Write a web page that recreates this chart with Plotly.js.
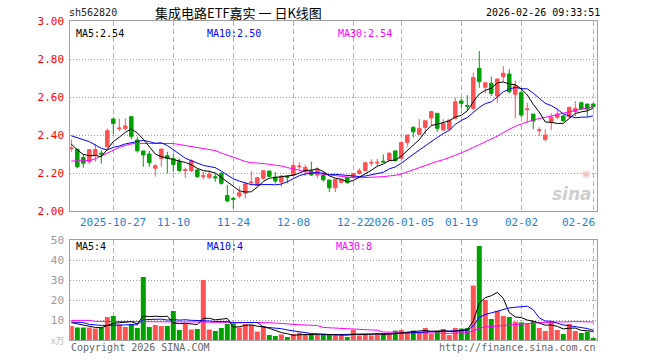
<!DOCTYPE html>
<html><head><meta charset="utf-8">
<script src="https://cdn.plot.ly/plotly-3.0.1.min.js"></script>
<style>html,body{margin:0;padding:0;background:#fff}#chart{width:660px;height:360px}</style>
</head><body><div id="chart"></div>
<script>
const dates = ['2025-10-16','2025-10-17','2025-10-20','2025-10-21','2025-10-22','2025-10-23','2025-10-24','2025-10-27','2025-10-28','2025-10-29',
'2025-10-30','2025-10-31','2025-11-03','2025-11-04','2025-11-05','2025-11-06','2025-11-07','2025-11-10','2025-11-11','2025-11-12',
'2025-11-13','2025-11-14','2025-11-17','2025-11-18','2025-11-19','2025-11-20','2025-11-21','2025-11-24','2025-11-25','2025-11-26',
'2025-11-27','2025-11-28','2025-12-01','2025-12-02','2025-12-03','2025-12-04','2025-12-05','2025-12-08','2025-12-09','2025-12-10',
'2025-12-11','2025-12-12','2025-12-15','2025-12-16','2025-12-17','2025-12-18','2025-12-19','2025-12-22','2025-12-23','2025-12-24',
'2025-12-25','2025-12-26','2025-12-29','2025-12-30','2025-12-31','2026-01-05','2026-01-06','2026-01-07','2026-01-08','2026-01-09',
'2026-01-12','2026-01-13','2026-01-14','2026-01-15','2026-01-16','2026-01-19','2026-01-20','2026-01-21','2026-01-22','2026-01-23',
'2026-01-26','2026-01-27','2026-01-28','2026-01-29','2026-01-30','2026-02-02','2026-02-03','2026-02-04','2026-02-05','2026-02-06',
'2026-02-09','2026-02-10','2026-02-11','2026-02-12','2026-02-13','2026-02-24','2026-02-25','2026-02-26'];

const open = [2.328,2.325,2.281,2.259,2.295,2.305,2.338,2.484,2.432,2.435,
2.496,2.374,2.316,2.300,2.225,2.277,2.291,2.275,2.260,2.213,
2.212,2.216,2.182,2.177,2.180,2.198,2.081,2.066,2.079,2.093,
2.148,2.135,2.172,2.210,2.179,2.152,2.183,2.188,2.233,2.207,
2.211,2.189,2.188,2.163,2.122,2.151,2.176,2.178,2.198,2.212,
2.252,2.252,2.262,2.268,2.316,2.277,2.360,2.440,2.404,2.440,
2.490,2.514,2.426,2.430,2.488,2.579,2.555,2.540,2.751,2.651,
2.672,2.605,2.707,2.721,2.614,2.623,2.533,2.510,2.424,2.377,
2.465,2.493,2.500,2.496,2.523,2.570,2.563,2.563];
const high = [2.377,2.328,2.300,2.325,2.353,2.320,2.435,2.491,2.485,2.488,
2.500,2.391,2.316,2.316,2.247,2.328,2.312,2.300,2.277,2.228,
2.272,2.220,2.207,2.214,2.198,2.205,2.137,2.075,2.128,2.147,
2.210,2.178,2.216,2.214,2.204,2.190,2.186,2.259,2.256,2.244,
2.260,2.230,2.205,2.163,2.168,2.168,2.178,2.200,2.225,2.258,
2.272,2.275,2.298,2.310,2.318,2.362,2.400,2.447,2.484,2.475,
2.528,2.514,2.483,2.480,2.596,2.593,2.610,2.728,2.842,2.675,
2.707,2.695,2.763,2.746,2.686,2.646,2.570,2.510,2.440,2.430,
2.514,2.540,2.505,2.548,2.579,2.575,2.563,2.566];
const low = [2.312,2.225,2.228,2.247,2.260,2.250,2.335,2.405,2.420,2.423,
2.378,2.307,2.233,2.233,2.181,2.233,2.198,2.205,2.205,2.175,
2.205,2.175,2.167,2.167,2.154,2.139,2.044,2.012,2.067,2.067,
2.135,2.130,2.165,2.180,2.144,2.128,2.146,2.185,2.218,2.185,
2.184,2.172,2.154,2.100,2.100,2.145,2.142,2.170,2.190,2.210,
2.237,2.235,2.255,2.262,2.260,2.275,2.338,2.386,2.400,2.404,
2.447,2.417,2.424,2.428,2.486,2.540,2.528,2.532,2.649,2.619,
2.605,2.570,2.681,2.619,2.488,2.493,2.465,2.430,2.395,2.365,
2.426,2.483,2.470,2.490,2.496,2.535,2.496,2.545];
const close = [2.332,2.233,2.251,2.323,2.323,2.300,2.423,2.461,2.437,2.447,
2.393,2.317,2.295,2.254,2.238,2.326,2.277,2.245,2.213,2.218,
2.265,2.181,2.186,2.193,2.175,2.146,2.053,2.062,2.096,2.142,
2.152,2.175,2.212,2.182,2.158,2.184,2.178,2.240,2.236,2.230,
2.190,2.219,2.164,2.122,2.167,2.164,2.150,2.198,2.212,2.254,
2.256,2.256,2.258,2.304,2.265,2.360,2.400,2.417,2.435,2.475,
2.523,2.435,2.461,2.479,2.575,2.567,2.552,2.702,2.681,2.675,
2.619,2.695,2.725,2.628,2.660,2.505,2.537,2.474,2.428,2.400,
2.493,2.510,2.475,2.546,2.540,2.537,2.537,2.549];
const volume = [7,6.2,6.2,6.2,5.8,6.2,11.5,12,7.8,6.5,
8,6,31.5,6.5,7.5,7,7,14.5,5,8.3,
5.2,5.5,30,5.2,4.5,6,8,8.3,6.3,8,
7.5,4.2,7,2.5,2,2.8,1.5,3,3.7,2.8,
2.8,2.5,3,2.5,2.5,2.5,1.5,5,2.3,3,
2.3,3,3.3,3,4.7,5,4,4.7,4.2,6,
3,4.5,5.5,2.5,6,5.7,6,27.2,47,20,
10.5,14.5,12,11.5,9.2,8.8,8.3,9.5,6,4.5,
9.2,5,3,8,4.5,3.5,4.2,1];

// moving-average values before enough history is shown
const ma5Head = [2.353,2.321,2.298,2.291];
const ma10Head = [2.396,2.386,2.377,2.365,2.347,2.330,2.321,2.335,2.342];
const ma30Head = [2.263,2.263,2.263,2.265,2.275,2.290,2.305,2.320,2.335,2.345,
2.353,2.356,2.356,2.356,2.356,2.356,2.355,2.355,2.350,2.345,
2.338,2.335,2.330,2.325,2.318,2.305,2.295,2.285,2.272];
const vma5Head = [8.7,8.0,7.3,6.7];
const vma10Head = [9.0,9.0,8.7,7.8,7.5,7.3,7.3,7.5,7.7];
const vma30Head = [9.8,9.8,9.8,9.8,9.3,9.3,9.3,9.3,9.3,9.3,
9.3,9.0,9.0,9.0,9.0,9.0,9.0,9.0,9.0,9.0,
9.0,9.0,9.0,8.9,8.9,8.9,8.9,8.9,8.9];

const tickDates = ['2025-10-27','2025-11-10','2025-11-24','2025-12-08','2025-12-22','2026-01-05','2026-01-19','2026-02-02','2026-02-26'];
const tickLabels = ['2025-10-27','11-10','11-24','12-08','12-22','2026-01-05','01-19','02-02','02-26'];
const priceTicks = [2.0,2.2,2.4,2.6,2.8,3.0];
const volTicks = [10,20,30,40,50];

const titleText = '集成电路ETF嘉实 一 日K线图';
const codeText = 'sh562820';
const stampText = '2026-02-26 09:33:51';
const priceLegend = ['MA5:2.54','MA10:2.50','MA30:2.54'];
const volLegend = ['MA5:4','MA10:4','MA30:8'];

function movingAvg(vals, n, head){
  return vals.map((v,i)=>{
    if(i < n-1) return head[i];
    let s=0; for(let k=i-n+1;k<=i;k++) s+=vals[k];
    return s/n;
  });
}

const UP='#ff5252', DOWN='#00a000';
const MONO='DejaVu Sans Mono';
const maColors=['#000000','#0000ff','#ff00ff'];

const ma5=movingAvg(close,5,ma5Head), ma10=movingAvg(close,10,ma10Head), ma30=movingAvg(close,30,ma30Head);
const vma5=movingAvg(volume,5,vma5Head), vma10=movingAvg(volume,10,vma10Head), vma30=movingAvg(volume,30,vma30Head);
const barColors = close.map((c,i)=> c>=open[i]?UP:DOWN);

const traces = [
  {type:'scatter',mode:'lines',x:dates,y:ma30,line:{color:maColors[2],width:1},xaxis:'x',yaxis:'y',hoverinfo:'skip'},
  {type:'candlestick',x:dates,open:open,high:high,low:low,close:close,xaxis:'x',yaxis:'y',
   increasing:{line:{color:UP,width:1},fillcolor:UP},decreasing:{line:{color:DOWN,width:1},fillcolor:DOWN},whiskerwidth:0},
  {type:'scatter',mode:'lines',x:dates,y:ma10,line:{color:maColors[1],width:1},xaxis:'x',yaxis:'y',hoverinfo:'skip'},
  {type:'scatter',mode:'lines',x:dates,y:ma5,line:{color:maColors[0],width:1},xaxis:'x',yaxis:'y',hoverinfo:'skip'},
  {type:'bar',x:dates,y:volume,marker:{color:barColors,line:{width:0}},width:0.83,xaxis:'x2',yaxis:'y2'},
  {type:'scatter',mode:'lines',x:dates,y:vma30,line:{color:maColors[2],width:1},xaxis:'x2',yaxis:'y2',hoverinfo:'skip'},
  {type:'scatter',mode:'lines',x:dates,y:vma10,line:{color:maColors[1],width:1},xaxis:'x2',yaxis:'y2',hoverinfo:'skip'},
  {type:'scatter',mode:'lines',x:dates,y:vma5,line:{color:maColors[0],width:1},xaxis:'x2',yaxis:'y2',hoverinfo:'skip'}
];

const W=660,H=360;
const px=(x)=>x/W, py=(y)=>1-y/H;
const xCommon = {type:'category',categoryorder:'array',categoryarray:dates,range:[-0.17,87.62],
  domain:[px(70.3),px(597)],tickvals:tickDates,showticklabels:false,ticks:'',
  showgrid:true,gridcolor:'#b4b4b4',griddash:'5px,3px',gridwidth:1,
  showline:true,mirror:true,linecolor:'#a0a0a0',linewidth:1,zeroline:false,fixedrange:true};

const ann=[];
function txt(x,y,text,opts){ann.push(Object.assign({xref:'paper',yref:'paper',x:x,y:y,text:text,showarrow:false,xanchor:'left',yanchor:'middle',font:{family:MONO,size:10,color:'#000'}},opts||{}));}
txt(px(67),py(13),codeText,{font:{family:MONO,size:10,color:'#222'}});
txt(px(238),py(13),titleText,{xanchor:'center',font:{family:'Noto Sans CJK SC',size:13,color:'#000'}});
txt(px(602),py(13),stampText,{xanchor:'right',font:{family:MONO,size:10,color:'#000'}});
txt(px(74),py(33),priceLegend[0],{font:{family:MONO,size:10,color:maColors[0]}});
txt(px(205),py(33),priceLegend[1],{font:{family:MONO,size:10,color:maColors[1]}});
txt(px(336),py(33),priceLegend[2],{font:{family:MONO,size:10,color:maColors[2]}});
txt(px(74),py(246),volLegend[0],{font:{family:MONO,size:10,color:maColors[0]}});
txt(px(205),py(246),volLegend[1],{font:{family:MONO,size:10,color:maColors[1]}});
txt(px(334),py(246),volLegend[2],{font:{family:MONO,size:10,color:maColors[2]}});
txt(px(69),py(347),'Copyright 2026 SINA.COM',{font:{family:MONO,size:10,color:'#666'}});
txt(px(598),py(347),'http://finance.sina.com.cn',{xanchor:'right',font:{family:MONO,size:10,color:'#666'}});
txt(px(66),py(340),'x万',{xanchor:'right',font:{family:'Noto Sans CJK SC',size:9,color:'#bbb'}});
txt(px(594),py(194),'<b><i>sina</i></b>',{xanchor:'right',font:{family:'DejaVu Sans',size:17,color:'#cfcfcf'}});
txt(px(586),py(173),'◉',{xanchor:'center',font:{family:'DejaVu Sans',size:10,color:'#f3c0c0'}});
tickDates.forEach((d,i)=>{
  const last = i===tickDates.length-1;
  ann.push({xref:'x',yref:'paper',x:d,y:py(222),text:tickLabels[i],showarrow:false,
    xanchor:last?'right':'center',xshift:last?4:0,yanchor:'middle',font:{family:MONO,size:11,color:'#1f80d0'}});
});

const layout = {
  width:W,height:H,autosize:false,margin:{l:0,r:0,t:0,b:0},
  paper_bgcolor:'#fff',plot_bgcolor:'#fff',showlegend:false,
  boxgap:0.17,bargap:0.17,
  xaxis:Object.assign({},xCommon,{anchor:'y',rangeslider:{visible:false}}),
  xaxis2:Object.assign({},xCommon,{anchor:'y2',matches:'x'}),
  yaxis:{domain:[py(211),py(21)],range:[2,3],tickvals:priceTicks,ticktext:priceTicks.map(v=>v.toFixed(2)),
    tickfont:{family:MONO,size:11,color:'#ff0000'},ticks:'',ticklabelstandoff:3,
    showgrid:true,gridcolor:'#a0a0a0',griddash:'1px,2px',showline:true,mirror:true,linecolor:'#a0a0a0',linewidth:1,zeroline:false,fixedrange:true},
  yaxis2:{domain:[py(340),py(240)],range:[0,50],tickvals:volTicks,ticktext:volTicks.map(String),
    tickfont:{family:MONO,size:11,color:'#999'},ticks:'',ticklabelstandoff:3,
    showgrid:true,gridcolor:'#a0a0a0',griddash:'1px,2px',showline:true,mirror:true,linecolor:'#a0a0a0',linewidth:1,zeroline:false,fixedrange:true},
  annotations:ann
};
Plotly.newPlot('chart',traces,layout,{staticPlot:true,displayModeBar:false});
</script></body></html>
